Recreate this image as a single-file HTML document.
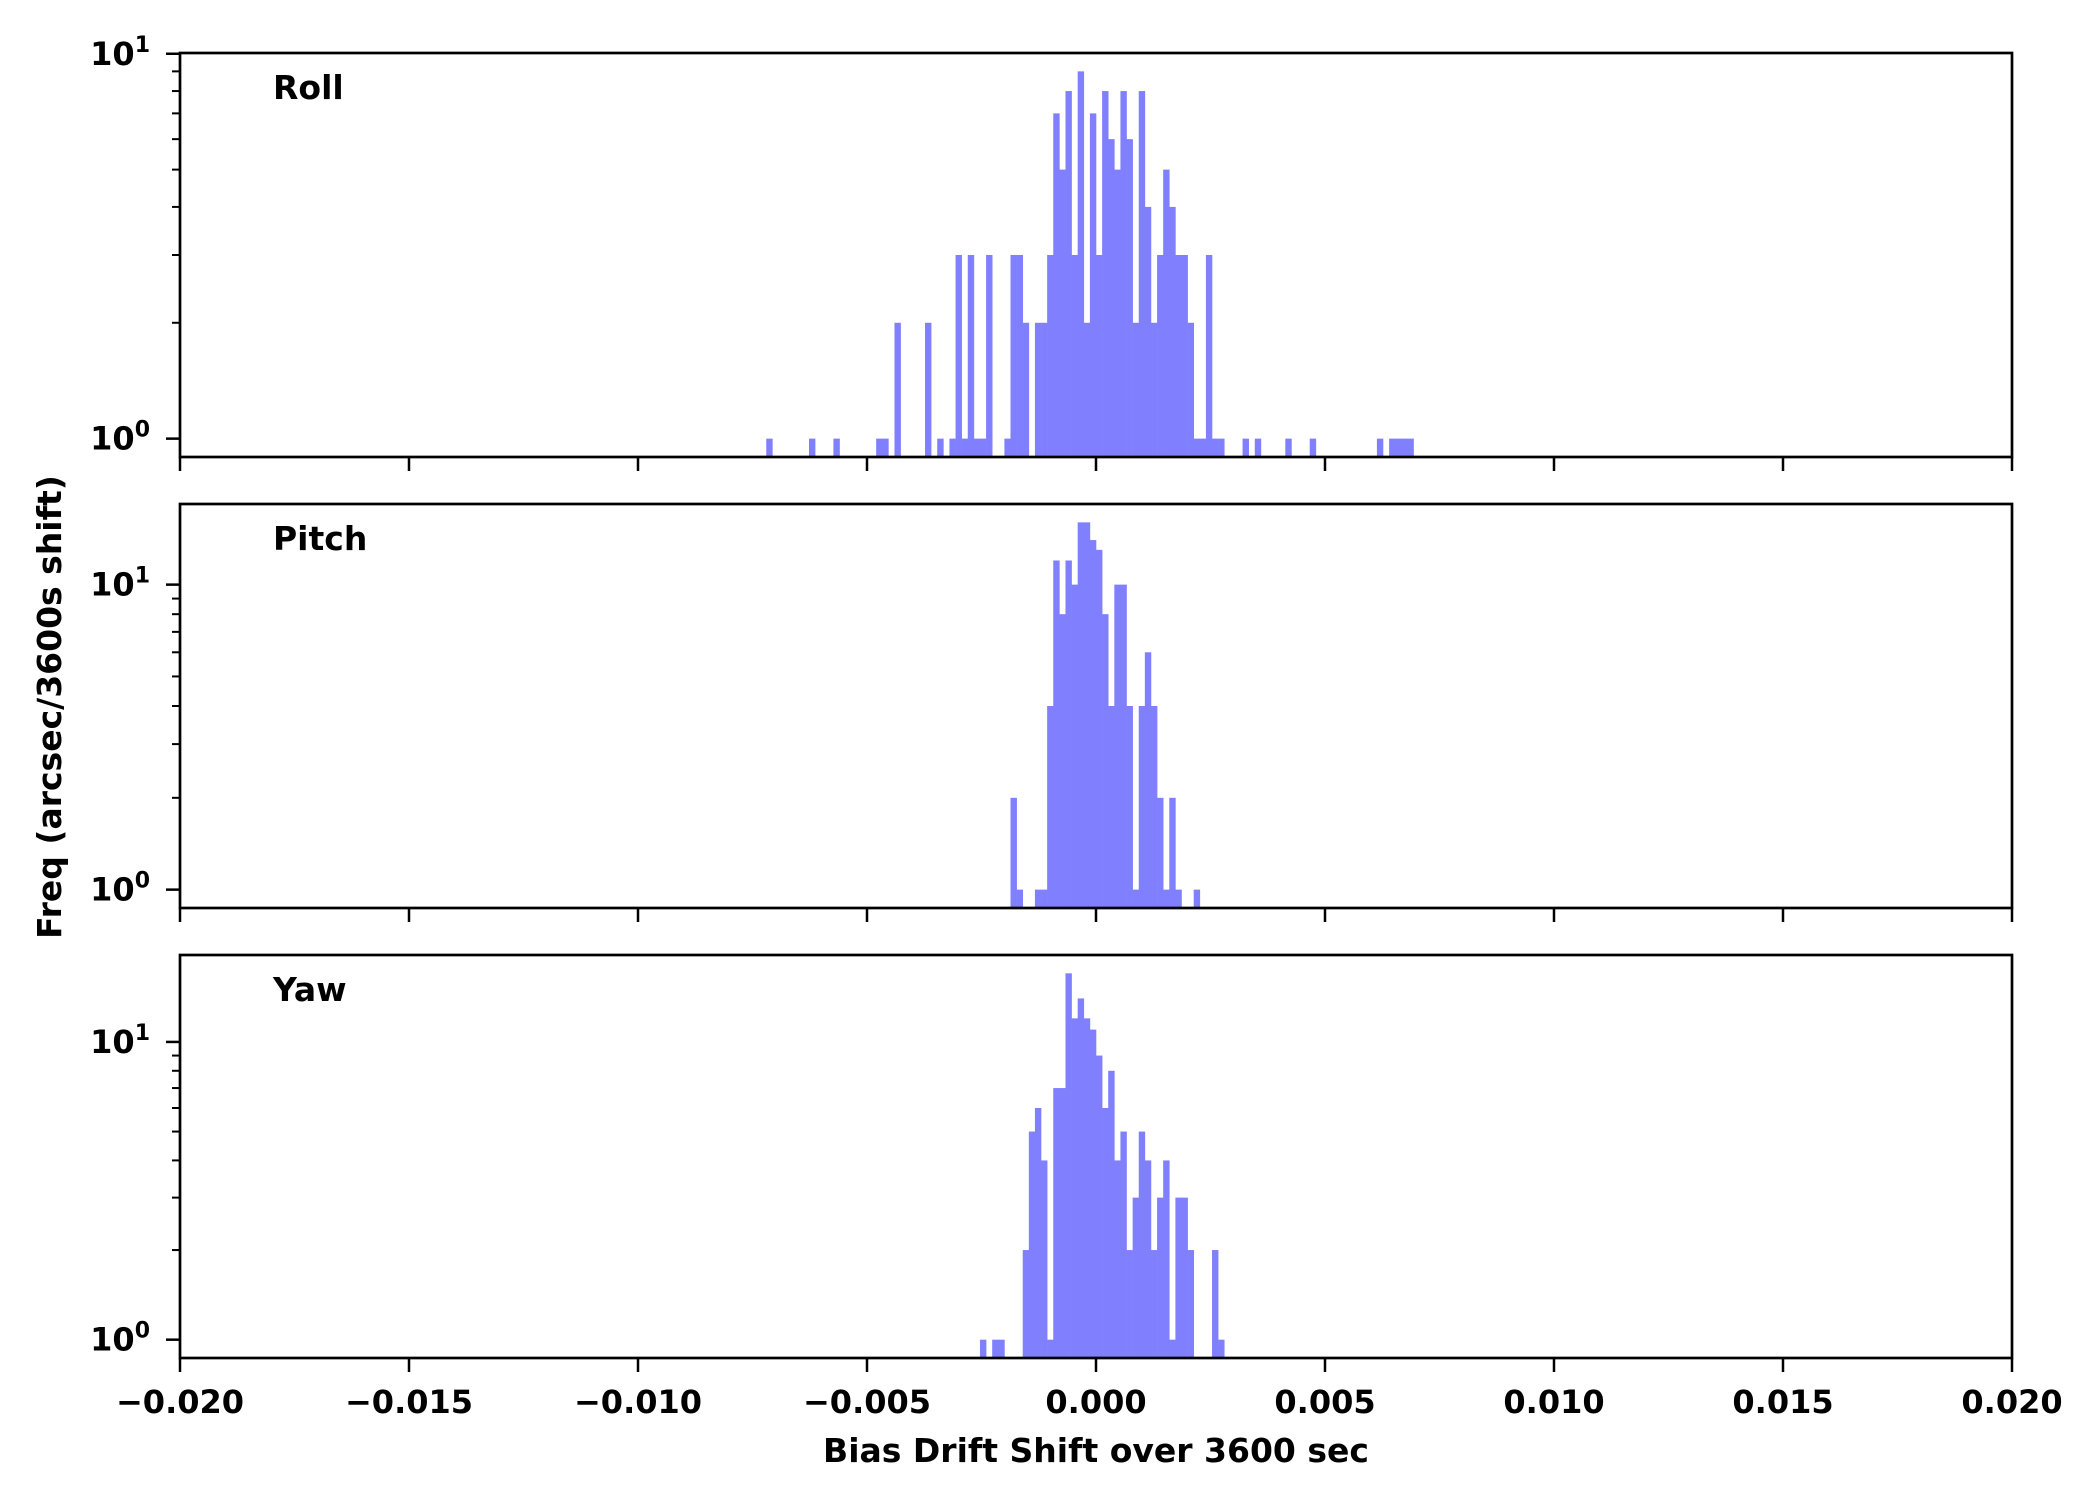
<!DOCTYPE html>
<html><head><meta charset="utf-8"><style>
html,body{margin:0;padding:0;background:#fff}
svg{display:block}
text{font-family:"DejaVu Sans","Liberation Sans",sans-serif;font-weight:bold;fill:#000}
</style></head><body>
<svg id="chart" width="2100" height="1500" viewBox="0 0 2100 1500" xmlns="http://www.w3.org/2000/svg">
<rect width="2100" height="1500" fill="#fff"/>
<text x="1096" y="1462" font-size="33" text-anchor="middle">Bias Drift Shift over 3600 sec</text>
<text transform="translate(61,707) rotate(-90)" font-size="33" text-anchor="middle">Freq (arcsec/3600s shift)</text>
</svg>
<script>
// histogram bins: 300 equal bins over [-0.02, 0.02]
const binLo = -0.02, binHi = 0.02, binCount = 300;
const xTicks = [-0.020, -0.015, -0.010, -0.005, 0.000, 0.005, 0.010, 0.015, 0.020];
const xTickLabels = ["\u22120.020","\u22120.015","\u22120.010","\u22120.005","0.000","0.005","0.010","0.015","0.020"];
const panelNames = ["Roll","Pitch","Yaw"];
// first bin index of each series and the counts from there
const rollStart = 96;
const rollCounts = [1,0,0,0,0,0,0,1,0,0,0,1,0,0,0,0,0,0,1,1,0,2,0,0,0,0,2,0,1,0,1,3,1,3,1,1,3,0,0,1,3,3,2,0,2,2,3,7,5,8,3,9,2,7,3,8,6,5,8,6,2,8,4,2,3,5,4,3,3,2,1,1,3,1,1,0,0,0,1,0,1,0,0,0,0,1,0,0,0,1,0,0,0,0,0,0,0,0,0,0,1,0,1,1,1,1];
const pitchStart = 136;
const pitchCounts = [2,1,0,0,1,1,4,12,8,12,10,16,16,14,13,8,4,10,10,4,1,4,6,4,2,1,2,1,0,0,1];
const yawStart = 131;
const yawCounts = [1,0,1,1,0,0,0,2,5,6,4,1,7,7,17,12,14,12,11,9,6,8,4,5,2,3,5,4,2,3,4,1,3,3,2,0,0,0,2,1];

const NS = "http://www.w3.org/2000/svg";
const svg = document.getElementById("chart");
const L = 180, R = 2012;
const panels = [{top:53,bot:457},{top:504,bot:908},{top:955,bot:1358}];
const series = [[rollStart,rollCounts],[pitchStart,pitchCounts],[yawStart,yawCounts]];
function xs(v){return L + (v - binLo)/(binHi - binLo)*(R - L);}
function mk(tag, attrs, parent){const e=document.createElementNS(NS,tag);for(const k in attrs)e.setAttribute(k,attrs[k]);(parent||svg).appendChild(e);return e;}

series.forEach((s, p) => {
  const [start, counts] = s;
  const P = panels[p];
  const maxC = Math.max(...counts);
  const lmax = Math.log10(maxC);
  const lo = -0.05*lmax, hi = 1.05*lmax;
  const ys = c => P.bot - (Math.log10(c) - lo)/(hi - lo)*(P.bot - P.top);
  const g = mk("g", {});
  
  
  const bw = (binHi - binLo)/binCount;
  counts.forEach((c, i) => {
    if (c <= 0) return;
    const x0 = xs(binLo + (start+i)*bw), x1 = xs(binLo + (start+i+1)*bw);
    const r = mk("rect", {x:x0, y:ys(c), width:x1-x0+0.3, height:P.bot-ys(c), fill:"#8080ff"}, g);
    
    
  });
  for (let d = 0; d <= 2; d++) {
    for (let m = 1; m <= 9; m++) {
      const v = m*Math.pow(10,d);
      const lv = Math.log10(v);
      if (lv < lo || lv > hi) continue;
      const y = ys(v);
      const len = m === 1 ? 14 : 8;
      mk("line", {x1:L-len, x2:L, y1:y, y2:y, stroke:"#000", "stroke-width": m===1?2.5:2}, g);
      if (m === 1) {
        const t = mk("text", {x:150, y:y+11, "font-size":32, "text-anchor":"end"}, g);
        
        
        t.appendChild(document.createTextNode("10"));
        const sup = document.createElementNS(NS,"tspan");
        sup.setAttribute("font-size","22"); sup.setAttribute("dy","-13");
        sup.textContent = String(d);
        t.appendChild(sup);
      }
    }
  }
  xTicks.forEach((v, i) => {
    const x = xs(v);
    mk("line", {x1:x, x2:x, y1:P.bot, y2:P.bot+14, stroke:"#000", "stroke-width":2.5}, g);
    if (p === 2) {
      const t = mk("text", {x:x, y:1413, "font-size":32, "text-anchor":"middle"}, g);
      
      
      t.textContent = xTickLabels[i];
    }
  });
  const fr = mk("rect", {x:L, y:P.top, width:R-L, height:P.bot-P.top, fill:"none", stroke:"#000", "stroke-width":2.7}, g);
  
  
  const lab = mk("text", {x:273, y:P.top+46, "font-size":33}, g);
  
  
  lab.textContent = panelNames[p];
});
</script>
</body></html>
